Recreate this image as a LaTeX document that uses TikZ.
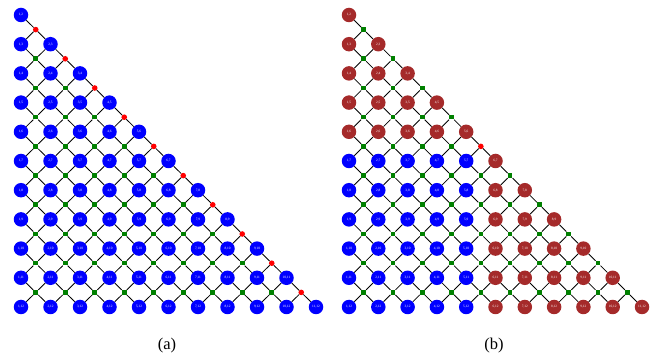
\documentclass[tikz,border=0pt]{standalone}
\usepackage{fontspec}
\setmainfont{Liberation Serif}
\usepackage{tikz}
\usetikzlibrary{positioning}
\usepackage{xcolor}
\definecolor{pairblue}{RGB}{0,0,255}
\definecolor{pairbrown}{RGB}{165,42,42}
\definecolor{dotgreen}{RGB}{0,128,0}
\definecolor{dotred}{RGB}{255,0,0}
\tikzset{
  % pair node (i,j)
  pnode/.style={circle, fill=#1, text=white, minimum size=14.5pt, inner sep=0pt,
                font=\fontsize{3.4}{4}\selectfont},
  pnode/.default={pairblue},
  % green junction
  gdot/.style={rectangle, fill=dotgreen, minimum size=4.6pt, inner sep=0pt},
  % red junction
  rdot/.style={circle, fill=dotred, minimum size=5.6pt, inner sep=0pt},
  % connector
  link/.style={draw=black, line width=0.85pt},
  % caption
  caplabel/.style={font=\fontsize{16.5}{19}\selectfont},
}

\begin{document}
\begin{tikzpicture}[x=1pt, y=-1pt]
  \useasboundingbox (0,0) rectangle (651,358);

  % ═══════ PANEL (a) ═══════
  \foreach \i in {1,...,11} {
    \pgfmathtruncatemacro{\jlo}{\i+1}
    \foreach \j in {\jlo,...,12} {
      \node[pnode] (a-\i-\j) at ({21+(\i-1)*29.5},{15+(\j-2)*29.2}) {\i,\j};
    }
  }
  % junctions: red on the diagonal, green inside
  \foreach \c in {1,...,10} {
    \foreach \r in {\c,...,10} {
      \pgfmathtruncatemacro{\cc}{\c+1}
      \pgfmathtruncatemacro{\rr}{\r+1}
      \pgfmathtruncatemacro{\rrr}{\r+2}
      \ifnum\c=\r \def\dotsty{rdot}\else \def\dotsty{gdot}\fi
      \node[\dotsty] (da-\c-\r) at ({21+(\c-0.5)*29.5},{15+(\r-0.5)*29.2}) {};
      \draw[link] (a-\c-\rr) -- (da-\c-\r);
      \draw[link] (da-\c-\r) -- (a-\c-\rrr);
      \draw[link] (da-\c-\r) -- (a-\cc-\rrr);
      \ifnum\c<\r \draw[link] (a-\cc-\rr) -- (da-\c-\r);\fi
    }
  }
  \node[caplabel] (capa) at (167,346) {(a)};

  % ═══════ PANEL (b) ═══════
  \foreach \i in {1,...,11} {
    \pgfmathtruncatemacro{\jlo}{\i+1}
    \foreach \j in {\jlo,...,12} {
      \ifnum\j<7 \def\pcol{pairbrown}\else
        \ifnum\i>5 \def\pcol{pairbrown}\else \def\pcol{pairblue}\fi\fi
      \node[pnode=\pcol] (b-\i-\j) at ({349+(\i-1)*29.3},{15+(\j-2)*29.2}) {\i,\j};
    }
  }
  % junctions: only (5,6)-(6,7) is red
  \foreach \c in {1,...,10} {
    \foreach \r in {\c,...,10} {
      \pgfmathtruncatemacro{\cc}{\c+1}
      \pgfmathtruncatemacro{\rr}{\r+1}
      \pgfmathtruncatemacro{\rrr}{\r+2}
      \def\dotsty{gdot}
      \ifnum\c=5 \ifnum\r=5 \def\dotsty{rdot}\fi\fi
      \node[\dotsty] (db-\c-\r) at ({349+(\c-0.5)*29.3},{15+(\r-0.5)*29.2}) {};
      \draw[link] (b-\c-\rr) -- (db-\c-\r);
      \draw[link] (db-\c-\r) -- (b-\c-\rrr);
      \draw[link] (db-\c-\r) -- (b-\cc-\rrr);
      \ifnum\c<\r \draw[link] (b-\cc-\rr) -- (db-\c-\r);\fi
    }
  }
  \node[caplabel] (capb) at (494,346) {(b)};

\end{tikzpicture}
\end{document}
